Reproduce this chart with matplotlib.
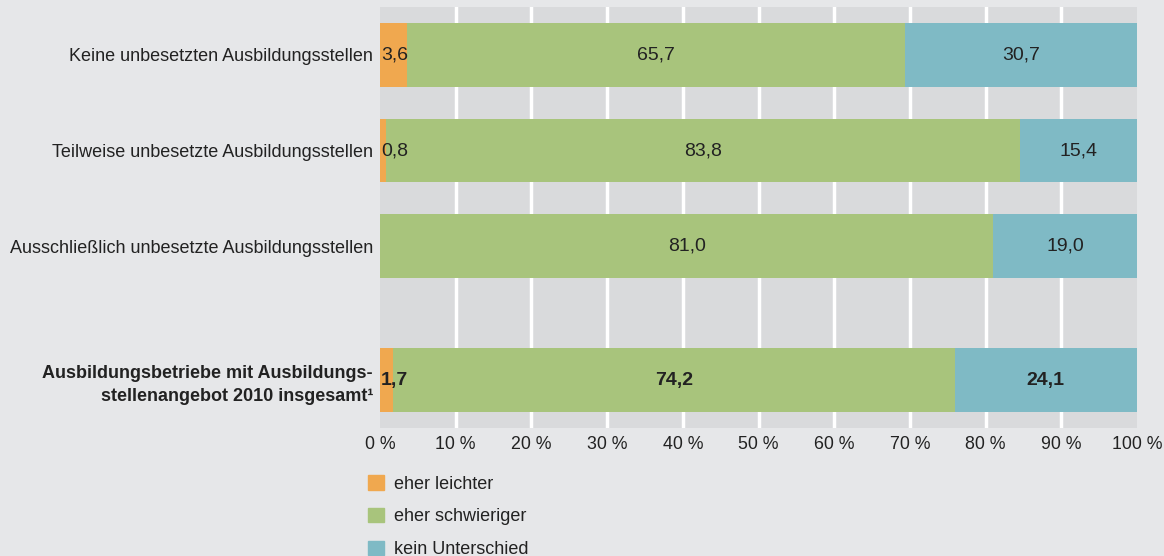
import matplotlib.pyplot as plt
from matplotlib.patches import Patch

plt.rcParams['font.family'] = ['Liberation Sans Narrow', 'Liberation Sans', 'DejaVu Sans']

categories = ["Keine unbesetzten Ausbildungsstellen",
              "Teilweise unbesetzte Ausbildungsstellen",
              "Ausschließlich unbesetzte Ausbildungsstellen",
              "Ausbildungsbetriebe mit Ausbildungs-\nstellenangebot 2010 insgesamt\u00b9"]
leichter = [3.6, 0.8, 0.0, 1.7]
schwieriger = [65.7, 83.8, 81.0, 74.2]
kein = [30.7, 15.4, 19.0, 24.1]
series_names = ["eher leichter", "eher schwieriger", "kein Unterschied"]
ticks = [0, 10, 20, 30, 40, 50, 60, 70, 80, 90, 100]

ypos = [0, 1, 2, 3.4]
colors = ["#f0a84f", "#a8c47c", "#7fbac5"]
bg = "#e6e7e9"

fig = plt.figure(figsize=(11.64, 5.56), dpi=100, facecolor=bg)
ax = fig.add_axes([380/1164, 1 - 428/556, 757/1164, 421/556])
ax.set_facecolor("#d9dadc")

for g in ticks[1:-1]:
    ax.axvline(g, color="white", lw=2.5, zorder=1)

left = [0] * len(ypos)
for vals, col in zip([leichter, schwieriger, kein], colors):
    ax.barh(ypos, vals, left=left, height=0.667, color=col, zorder=2)
    for i, v in enumerate(vals):
        if v <= 0:
            continue
        bold = "bold" if i == 3 else "normal"
        txt = f"{v:.1f}".replace(".", ",")
        if v < 5:
            ax.text(left[i] + 0.1, ypos[i], txt, ha="left", va="center",
                    fontsize=14, color="#222222", fontweight=bold, zorder=3)
        else:
            ax.text(left[i] + v / 2, ypos[i], txt, ha="center", va="center",
                    fontsize=14, color="#222222", fontweight=bold, zorder=3)
    left = [l + v for l, v in zip(left, vals)]

ax.set_xlim(0, 100)
ax.set_ylim(3.9, -0.5)
ax.set_xticks(ticks)
ax.set_xticklabels([f"{t} %" for t in ticks], fontsize=12.8, color="#222222")
ax.set_yticks(ypos)
ax.set_yticklabels(categories, fontsize=13, color="#222222", linespacing=1.45)
ax.get_yticklabels()[3].set_fontweight("bold")
ax.tick_params(length=0, pad=5)
ax.tick_params(axis="x", pad=6)
for s in ax.spines.values():
    s.set_visible(False)

handles = [Patch(color=c) for c in colors]
fig.legend(handles, series_names, loc="upper left", bbox_to_anchor=(361/1164, 1 - 468/556),
           frameon=False, fontsize=13, handlelength=0.85, handleheight=0.85,
           handletextpad=0.55, labelspacing=0.85, borderaxespad=0, labelcolor="#222222")

fig.savefig("out.png", dpi=100, facecolor=bg)
